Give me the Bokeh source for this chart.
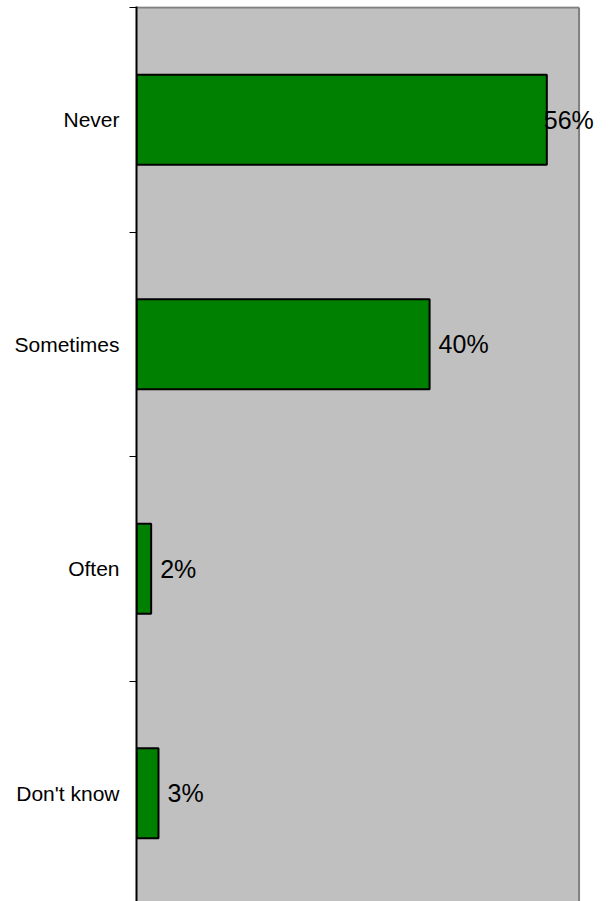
from bokeh.plotting import figure
from bokeh.models import Range1d, FixedTicker, Span, ColumnDataSource, BoxAnnotation
from bokeh.core.properties import value
from bokeh.embed import file_html
from bokeh.resources import INLINE

categories = ["Never", "Sometimes", "Often", "Don't know"]
percents = [56, 40, 2, 3]
labels = ["56%", "40%", "2%", "3%"]

PX_PER_BAND = 224.5
FIG_H = 901
TOP_BORDER = 6
FRAME_H = FIG_H - TOP_BORDER
top = -1.0 / PX_PER_BAND
bottom = top + FRAME_H / PX_PER_BAND

AXIS_MAX = 60.4
centers = [i + 0.5 for i in range(len(categories))]
bounds = [float(i) for i in range(len(categories) + 1)]

src = ColumnDataSource(dict(
    y=centers, v=percents, lab=labels,
    xo=[-3, 9, 9, 9],
))

p = figure(width=604, height=FIG_H, output_backend="svg", toolbar_location=None,
           x_range=Range1d(0, 63.6), y_range=Range1d(bottom, top),
           x_axis_location=None, min_border_left=136, min_border_right=2,
           min_border_top=TOP_BORDER, min_border_bottom=0)
p.background_fill_color = "white"
p.border_fill_color = "white"
p.outline_line_color = None
p.grid.visible = False

p.add_layout(BoxAnnotation(left=0, right=AXIS_MAX, fill_color="#C0C0C0", fill_alpha=1,
                           line_color=None, level="underlay"))

# plot-area border (top and right)
p.segment(x0=[0, AXIS_MAX], y0=[bounds[0], bounds[0]], x1=[AXIS_MAX, AXIS_MAX],
          y1=[bounds[0], bottom], line_color="#808080", line_width=2)

p.hbar(y="y", left=0, right="v", height=0.4, source=src,
       fill_color="#008000", line_color="black", line_width=2)

p.text(x="v", y="y", text="lab", source=src, x_offset="xo",
       text_font=value("Liberation Sans"), text_font_size="25px",
       text_baseline="middle", text_align="left", text_color="black")

ax = p.yaxis[0]
ax.ticker = FixedTicker(ticks=centers, minor_ticks=bounds)
ax.major_label_overrides = {c: n for c, n in zip(centers, categories)}
ax.major_tick_line_color = None
ax.minor_tick_line_color = "black"
ax.minor_tick_line_width = 1
ax.minor_tick_out = 7
ax.minor_tick_in = 0
ax.axis_line_color = "black"
ax.axis_line_width = 2
ax.major_label_standoff = 10
ax.major_label_text_font = "Liberation Sans"
ax.major_label_text_font_size = "21px"
ax.major_label_text_color = "black"

open("out.html", "w").write(file_html(p, INLINE))
